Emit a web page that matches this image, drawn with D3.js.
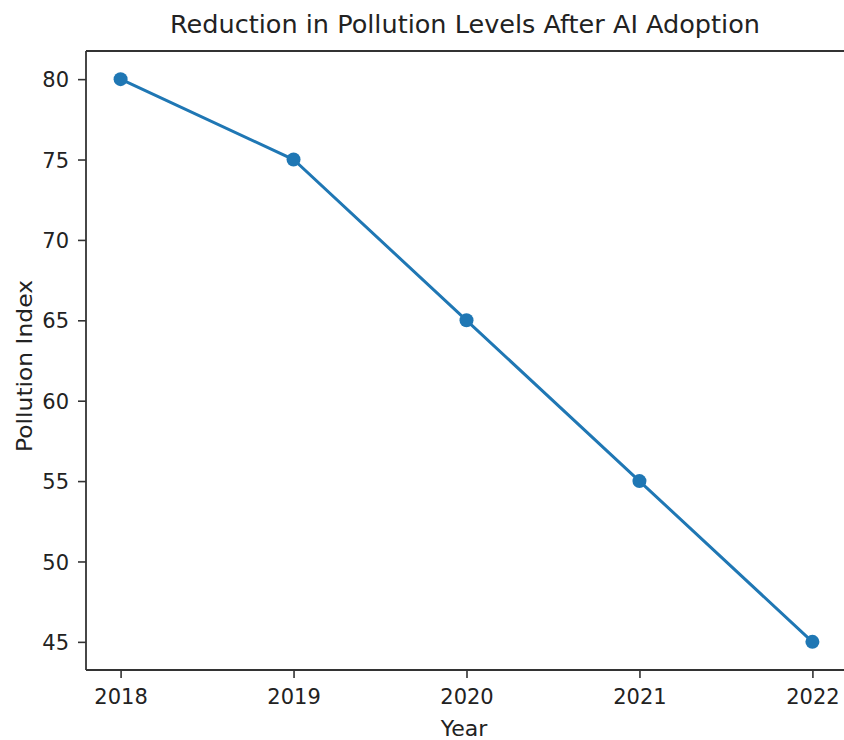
<!DOCTYPE html>
<html><head><meta charset="utf-8">
<script src="https://cdn.jsdelivr.net/npm/d3@7"></script>
<style>html,body{margin:0;padding:0;background:#fff;overflow:hidden;width:844px;height:740px}svg{display:block;overflow:hidden}text{font-family:"DejaVu Sans",sans-serif;fill:#222}</style>
</head><body>
<svg id="c" width="844" height="740" viewBox="0 0 844 740"></svg>
<script>
const years = [2018, 2019, 2020, 2021, 2022];
const pollution = [80, 75, 65, 55, 45];
const yTicks = [45, 50, 55, 60, 65, 70, 75, 80];
const title = "Reduction in Pollution Levels After AI Adoption";
const xLabel = "Year";
const yLabel = "Pollution Index";

const svg = d3.select("#c");
const L = 86, R = 847, T = 51, B = 670;
const x = d3.scaleLinear().domain([2017.8, 2022.2]).range([L, R]);
const y = d3.scaleLinear().domain([43.25, 81.75]).range([B, T]);

svg.append("rect").attr("width", 844).attr("height", 740).attr("fill", "#fff");

// axes
const xa = svg.append("g").attr("transform", `translate(0,${B})`)
  .call(d3.axisBottom(x).tickValues(years).tickFormat(d3.format("d")).tickSizeOuter(0).tickSize(8).tickPadding(6));
const ya = svg.append("g").attr("transform", `translate(${L},0)`)
  .call(d3.axisLeft(y).tickValues(yTicks).tickSizeOuter(0).tickSize(8).tickPadding(7));
[xa, ya].forEach(a => {
  a.select(".domain").remove();
  a.selectAll("line").attr("stroke", "#333").attr("stroke-width", 1.6);
  a.selectAll("text").style("font-size", "21px").attr("fill", "#222");
});
xa.selectAll("text").attr("y", 34).attr("dy", 0);
ya.selectAll("text").attr("x", -17).attr("dy", "0.36em");

// spines (right spine lies outside the picture)
const spines = [[L, T, L, B], [L, B, 844, B], [L, T, 844, T]];
svg.selectAll("line.sp").data(spines).join("line")
  .attr("x1", d => d[0]).attr("y1", d => d[1]).attr("x2", d => d[2]).attr("y2", d => d[3])
  .attr("stroke", "#333").attr("stroke-width", 1.8).attr("stroke-linecap", "butt");

// line + markers
const pts = years.map((d, i) => [d, pollution[i]]);
svg.append("path").datum(pts)
  .attr("d", d3.line().x(d => x(d[0])).y(d => y(d[1])))
  .attr("fill", "none").attr("stroke", "#1f77b4").attr("stroke-width", 3);
svg.selectAll("circle.m").data(pts).join("circle")
  .attr("cx", d => x(d[0])).attr("cy", d => y(d[1])).attr("r", 7)
  .attr("fill", "#1f77b4");

// title & labels
svg.append("text").attr("x", 465).attr("y", 33).attr("text-anchor", "middle")
  .style("font-size", "24px").attr("textLength", 590).attr("lengthAdjust", "spacingAndGlyphs").text(title);
svg.append("text").attr("x", 464).attr("y", 736).attr("text-anchor", "middle")
  .style("font-size", "22px").text(xLabel);
svg.append("text").attr("transform", "translate(32,366) rotate(-90)").attr("text-anchor", "middle")
  .style("font-size", "22px").attr("textLength", 172).attr("lengthAdjust", "spacingAndGlyphs").text(yLabel);
</script>
</body></html>
